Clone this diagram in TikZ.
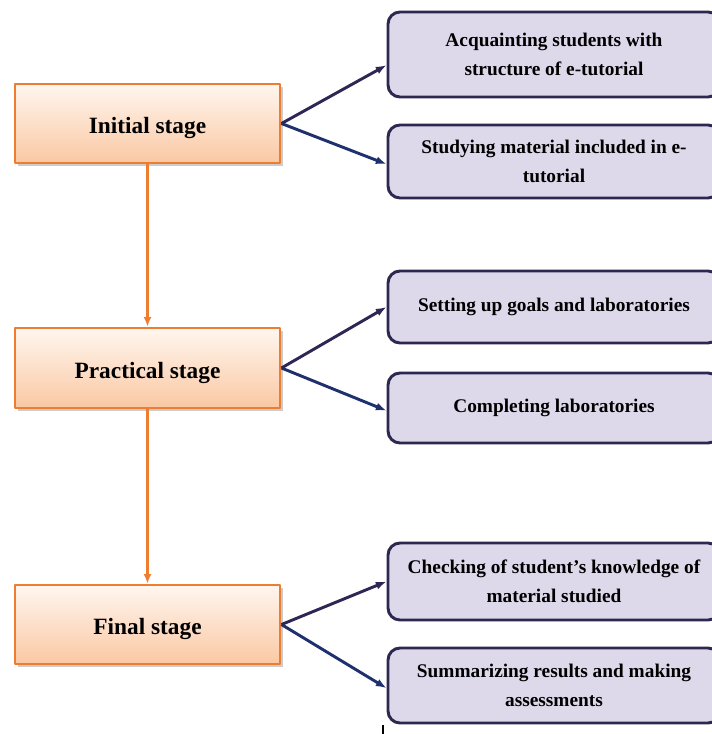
\documentclass[tikz,border=0pt]{standalone}
\usepackage{fontspec}
\setmainfont{Liberation Serif}
\usetikzlibrary{shadows, arrows.meta}

\begin{document}
\begin{tikzpicture}[x=0.75pt, y=-0.75pt, line join=round]
	\definecolor{stageline}{RGB}{237, 125, 49}
	\definecolor{stagetop}{RGB}{255, 246, 239}
	\definecolor{stagebot}{RGB}{250, 200, 163}
	\definecolor{stepline}{RGB}{46, 40, 80}
	\definecolor{stepfill}{RGB}{221, 217, 234}
	\definecolor{uparrow}{RGB}{48, 38, 84}
	\definecolor{downarrow}{RGB}{31, 48, 110}
	\tikzset{
		stage/.style={draw=stageline, line width=2.2pt, top color=stagetop, bottom color=stagebot,
			minimum width=198.75pt, text height=15pt, text depth=-4pt,
			font=\fontsize{17.5}{20}\selectfont\bfseries,
			drop shadow={shadow xshift=2.5pt, shadow yshift=-2.5pt, fill=black!40, opacity=.5}},
		stepbox/.style={draw=stepline, fill=stepfill, line width=2.2pt, rounded corners=9pt,
			minimum width=249pt, align=center, font=\fontsize{14.5}{22}\selectfont\bfseries},
		flow/.style={draw=stageline, line width=1.6pt, -{Latex[length=7pt, width=6pt]}},
		up/.style={draw=uparrow, line width=2.2pt, -{Latex[length=8pt, width=6pt]}},
		down/.style={draw=downarrow, line width=2.2pt, -{Latex[length=8pt, width=6pt]}}
	}
	\useasboundingbox (0, 0) rectangle (711, 734);

	% stages
	\node[stage, minimum height=59.25pt] (initial) at (147.5, 123.5) {Initial stage};
	\node[stage, minimum height=60pt] (practical) at (147.5, 368) {Practical stage};
	\node[stage, minimum height=59.25pt] (final) at (147.5, 624.5) {Final stage};

	% steps
	\node[stepbox, minimum height=63.75pt] (acq) at (554, 54.5) {Acquainting students with\\structure of e-tutorial};
	\node[stepbox, minimum height=54.75pt] (study) at (554, 161.5) {Studying material included in e-\\tutorial};
	\node[stepbox, minimum height=54pt] (goals) at (554, 307) {Setting up goals and laboratories};
	\node[stepbox, minimum height=52.5pt] (labs) at (554, 408) {Completing laboratories};
	\node[stepbox, minimum height=57.75pt] (check) at (554, 581.5) {Checking of student's knowledge of\\material studied};
	\node[stepbox, minimum height=56.25pt] (summ) at (554, 685.5) {Summarizing results and making\\assessments};

	% connectors
	\draw[flow] (initial) -- (practical);
	\draw[flow] (practical) -- (final);
	\draw[up] (initial.east) -- ([yshift=-8pt]acq.west);
	\draw[down] (initial.east) -- ([yshift=-2pt]study.west);
	\draw[up] (practical.east) -- (goals.west);
	\draw[down] (practical.east) -- ([yshift=-2pt]labs.west);
	\draw[up] (final.east) -- (check.west);
	\draw[down] (final.east) -- ([yshift=-2pt]summ.west);

	\draw[line width=1.5pt] (383, 725) -- (383, 734);
\end{tikzpicture}
\end{document}
